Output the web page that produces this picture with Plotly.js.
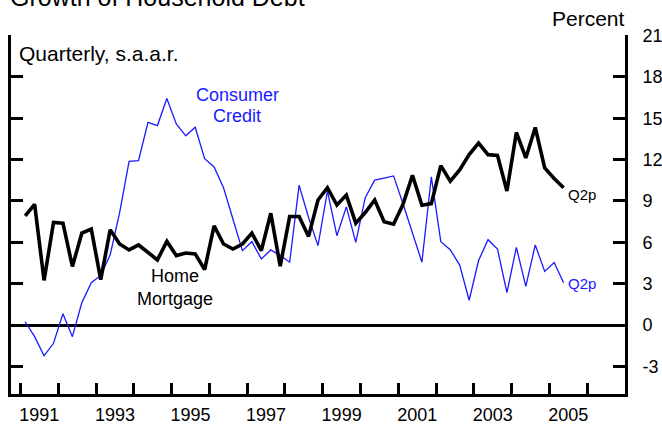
<!DOCTYPE html>
<html>
<head>
<meta charset="utf-8">
<script src="https://cdn.plot.ly/plotly-3.0.1.min.js"></script>
<style>
  html, body { margin: 0; padding: 0; background: #ffffff; }
  #chart { width: 662px; height: 428px; }
</style>
</head>
<body>
<div id="chart"></div>
<script>
// Quarterly, 1991Q1 .. 2005Q2 (Q2 2005 preliminary)
const firstYear = 1991;
const lastYear = 2005;
const lastQuarter = 2;

// Growth rates, percent, s.a.a.r.
const homeMortgage = [
  7.92, 8.76, 3.24, 7.44,   7.39, 4.25, 6.67, 6.96,   3.29, 6.91, 5.88, 5.45,
  5.81, 5.28, 4.73, 6.07,   5.04, 5.23, 5.16, 4.03,   7.20, 5.88, 5.52, 5.88,
  6.67, 5.40, 8.11, 4.27,   7.87, 7.87, 6.43, 9.07,   9.96, 8.71, 9.43, 7.39,
  8.16, 9.07, 7.49, 7.32,   8.76, 10.87, 8.69, 8.81,  11.57, 10.44, 11.25, 12.36,
  13.20, 12.36, 12.31, 9.72, 13.97, 12.12, 14.33, 11.40, 10.63, 9.96
];
const consumerCredit = [
  0.24, -0.84, -2.23, -1.32,  0.82, -0.84, 1.63, 3.07,   3.60, 5.09, 8.16, 11.88,
  11.93, 14.71, 14.47, 16.44, 14.59, 13.73, 14.35, 12.07, 11.47, 9.96, 7.68, 5.40,
  6.05, 4.80, 5.45, 5.04,     4.56, 10.15, 7.80, 5.76,   9.72, 6.48, 8.57, 6.00,
  9.24, 10.51, 10.66, 10.82,  8.80, 6.72, 4.56, 10.75,   6.05, 5.47, 4.35, 1.80,
  4.68, 6.19, 5.52, 2.35,     5.64, 2.81, 5.81, 3.89,    4.54, 3.07
];

const yTicks = [-3, 0, 3, 6, 9, 12, 15, 18, 21];
const yearLabels = ['1991', '1993', '1995', '1997', '1999', '2001', '2003', '2005'];
const yearBoundaries = [];
for (let y = firstYear; y <= lastYear + 1; y++) yearBoundaries.push(y);

// quarter positions (mid-quarter, in fractional years)
const quarterX = [];
for (let y = firstYear; y <= lastYear; y++) {
  for (let q = 1; q <= 4; q++) {
    if (y === lastYear && q > lastQuarter) break;
    quarterX.push(y + (q - 0.5) / 4);
  }
}
const labelX = yearLabels.map(s => Number(s) + 0.5);
const lastX = quarterX[quarterX.length - 1];

const FONT = 'Liberation Sans, Arial, Helvetica, sans-serif';
const BLUE = '#1a1aff';

const traces = [
  {
    x: quarterX, y: consumerCredit, type: 'scatter', mode: 'lines',
    line: { color: BLUE, width: 1.3 }, hoverinfo: 'skip', showlegend: false
  },
  {
    x: quarterX, y: homeMortgage, type: 'scatter', mode: 'lines',
    line: { color: '#000000', width: 3.6 }, hoverinfo: 'skip', showlegend: false
  }
];

const layout = {
  width: 662, height: 428,
  margin: { l: 11, r: 37, t: 35, b: 34, pad: 0 },
  paper_bgcolor: '#ffffff', plot_bgcolor: '#ffffff',
  font: { family: FONT, size: 18, color: '#000000' },
  showlegend: false,
  xaxis: {
    range: [1990.75, 2007.0],
    showgrid: false, zeroline: false,
    showline: true, linecolor: '#000000', linewidth: 3,
    tickmode: 'array', tickvals: labelX, ticktext: yearLabels,
    ticks: '', ticklabelstandoff: 2,
    tickfont: { family: FONT, size: 18, color: '#000000' },
    minor: { tickmode: 'array', tickvals: yearBoundaries, ticks: 'inside', ticklen: 11, tickwidth: 3, tickcolor: '#000000', showgrid: false },
    fixedrange: true
  },
  yaxis: {
    range: [-5, 21.04],
    side: 'right',
    showgrid: false,
    zeroline: true, zerolinecolor: '#000000', zerolinewidth: 3,
    showline: true, linecolor: '#000000', linewidth: 3, mirror: 'ticks',
    tickmode: 'array', tickvals: yTicks, ticktext: yTicks.map(String),
    ticks: 'inside', ticklen: 12, tickwidth: 3, tickcolor: '#000000',
    ticklabelstandoff: 11,
    tickfont: { family: FONT, size: 18, color: '#000000' },
    fixedrange: true
  },
  annotations: [
    { text: 'Growth of Household Debt', xref: 'paper', yref: 'paper', x: -0.005, y: 1.106,
      xanchor: 'left', yanchor: 'middle', showarrow: false, font: { family: FONT, size: 25, color: '#000000' } },
    { text: 'Percent', xref: 'paper', yref: 'paper', x: 1.003, y: 1.047,
      xanchor: 'right', yanchor: 'middle', showarrow: false, font: { family: FONT, size: 21, color: '#000000' } },
    { text: 'Quarterly, s.a.a.r.', xref: 'paper', yref: 'paper', x: 0.009, y: 0.948,
      xanchor: 'left', yanchor: 'middle', showarrow: false, font: { family: FONT, size: 21, color: '#000000' } },
    { text: 'Consumer', xref: 'x', yref: 'y', x: 1996.75, y: 16.67,
      xanchor: 'center', yanchor: 'middle', showarrow: false, font: { family: FONT, size: 18, color: BLUE } },
    { text: 'Credit', xref: 'x', yref: 'y', x: 1996.74, y: 15.18,
      xanchor: 'center', yanchor: 'middle', showarrow: false, font: { family: FONT, size: 18, color: BLUE } },
    { text: 'Home', xref: 'x', yref: 'y', x: 1995.10, y: 3.54,
      xanchor: 'center', yanchor: 'middle', showarrow: false, font: { family: FONT, size: 18, color: '#000000' } },
    { text: 'Mortgage', xref: 'x', yref: 'y', x: 1995.10, y: 1.91,
      xanchor: 'center', yanchor: 'middle', showarrow: false, font: { family: FONT, size: 18, color: '#000000' } },
    { text: 'Q2p', xref: 'x', yref: 'y', x: lastX + 0.07, y: 9.45,
      xanchor: 'left', yanchor: 'middle', showarrow: false, font: { family: FONT, size: 15, color: '#000000' } },
    { text: 'Q2p', xref: 'x', yref: 'y', x: lastX + 0.07, y: 2.98,
      xanchor: 'left', yanchor: 'middle', showarrow: false, font: { family: FONT, size: 15, color: BLUE } }
  ]
};

Plotly.newPlot('chart', traces, layout, { staticPlot: true, displayModeBar: false });
</script>
</body>
</html>
